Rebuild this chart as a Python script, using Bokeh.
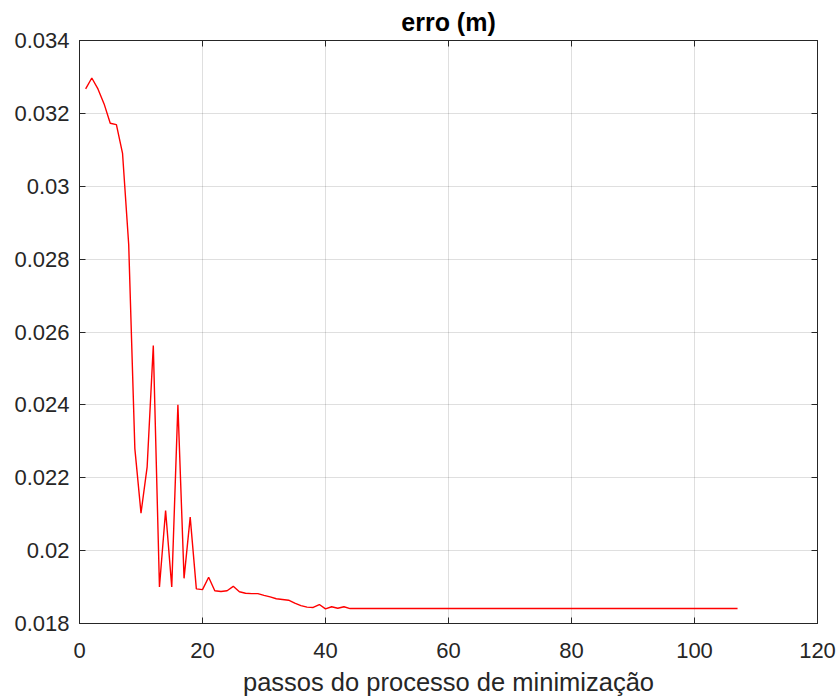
from bokeh.plotting import figure
from bokeh.models import LinearAxis, FixedTicker, Range1d, CustomJSTickFormatter
from bokeh.embed import file_html
from bokeh.resources import INLINE

# minimisation steps and the error (m) at each step
steps = list(range(1, 108))
erro = [
    0.03267, 0.03297, 0.03267, 0.03226, 0.03173, 0.03169, 0.03090, 0.02840,
    0.02280, 0.02103, 0.02230, 0.02563, 0.01900, 0.02110, 0.01900, 0.02400,
    0.01924, 0.02092, 0.01895, 0.01893, 0.01927, 0.01890, 0.01888, 0.01890,
    0.01902, 0.01887, 0.01883, 0.01882, 0.01882, 0.01877, 0.01873, 0.01868,
    0.01866, 0.01864, 0.01856, 0.01849, 0.01845, 0.01844, 0.01852, 0.01840,
    0.01846, 0.01842, 0.01846, 0.01841, 0.01841, 0.01841, 0.01841, 0.01841,
    0.01841, 0.01841, 0.01841, 0.01841, 0.01841, 0.01841, 0.01841, 0.01841,
    0.01841, 0.01841, 0.01841, 0.01841, 0.01841, 0.01841, 0.01841, 0.01841,
    0.01841, 0.01841, 0.01841, 0.01841, 0.01841, 0.01841, 0.01841, 0.01841,
    0.01841, 0.01841, 0.01841, 0.01841, 0.01841, 0.01841, 0.01841, 0.01841,
    0.01841, 0.01841, 0.01841, 0.01841, 0.01841, 0.01841, 0.01841, 0.01841,
    0.01841, 0.01841, 0.01841, 0.01841, 0.01841, 0.01841, 0.01841, 0.01841,
    0.01841, 0.01841, 0.01841, 0.01841, 0.01841, 0.01841, 0.01841, 0.01841,
    0.01841, 0.01841, 0.01841,
]

x_ticks = [0, 20, 40, 60, 80, 100, 120]
y_ticks = [0.018, 0.020, 0.022, 0.024, 0.026, 0.028, 0.030, 0.032, 0.034]
y_tick_labels = ["0.018", "0.02", "0.022", "0.024", "0.026", "0.028", "0.03", "0.032", "0.034"]

FONT = "Liberation Sans"
DARK = "#262626"

p = figure(
    width=837, height=699,
    x_range=Range1d(0, 120), y_range=Range1d(0.018, 0.034),
    output_backend="svg", toolbar_location=None,
    title="erro (m)",
    min_border_left=79, min_border_right=20,
    min_border_top=40, min_border_bottom=76,
)
p.background_fill_color = "white"
p.border_fill_color = "white"
p.outline_line_color = DARK
p.outline_line_width = 1

p.title.align = "center"
p.title.text_font = FONT
p.title.text_font_size = "25px"
p.title.text_font_style = "bold"
p.title.text_color = "black"
p.title.offset = 0

p.line(steps, erro, line_color="#ff0000", line_width=1.4)

xt = FixedTicker(ticks=x_ticks)
yt = FixedTicker(ticks=y_ticks)

for ax in p.xaxis:
    ax.ticker = xt
for ax in p.yaxis:
    ax.ticker = yt
p.yaxis.major_label_overrides = {v: s for v, s in zip(y_ticks, y_tick_labels)}

for ax in list(p.xaxis) + list(p.yaxis):
    ax.axis_line_color = DARK
    ax.major_tick_line_color = DARK
    ax.major_tick_in = 6
    ax.major_tick_out = 0
    ax.minor_tick_line_color = None
    ax.major_label_text_font = FONT
    ax.major_label_text_font_size = "22px"
    ax.major_label_text_color = DARK

p.xaxis.major_label_standoff = 19
p.yaxis.major_label_standoff = 10
p.xaxis.axis_label = "passos do processo de minimização"
p.xaxis.axis_label_text_font = FONT
p.xaxis.axis_label_text_font_size = "25.5px"
p.xaxis.axis_label_text_font_style = "normal"
p.xaxis.axis_label_text_color = DARK
p.xaxis.axis_label_standoff = 7

# mirrored tick marks on the top and right edges of the box (no labels)
blank = CustomJSTickFormatter(code="return ''")
for loc, tk in (("above", xt), ("right", yt)):
    ax = LinearAxis(ticker=tk, formatter=blank)
    ax.axis_line_color = DARK
    ax.major_tick_line_color = DARK
    ax.major_tick_in = 6
    ax.major_tick_out = 0
    ax.minor_tick_line_color = None
    ax.major_label_standoff = 0
    p.add_layout(ax, loc)

p.xgrid.ticker = xt
p.ygrid.ticker = yt
p.grid.grid_line_color = DARK
p.grid.grid_line_alpha = 0.15
p.grid.grid_line_width = 1

open("out.html", "w").write(file_html(p, INLINE))
